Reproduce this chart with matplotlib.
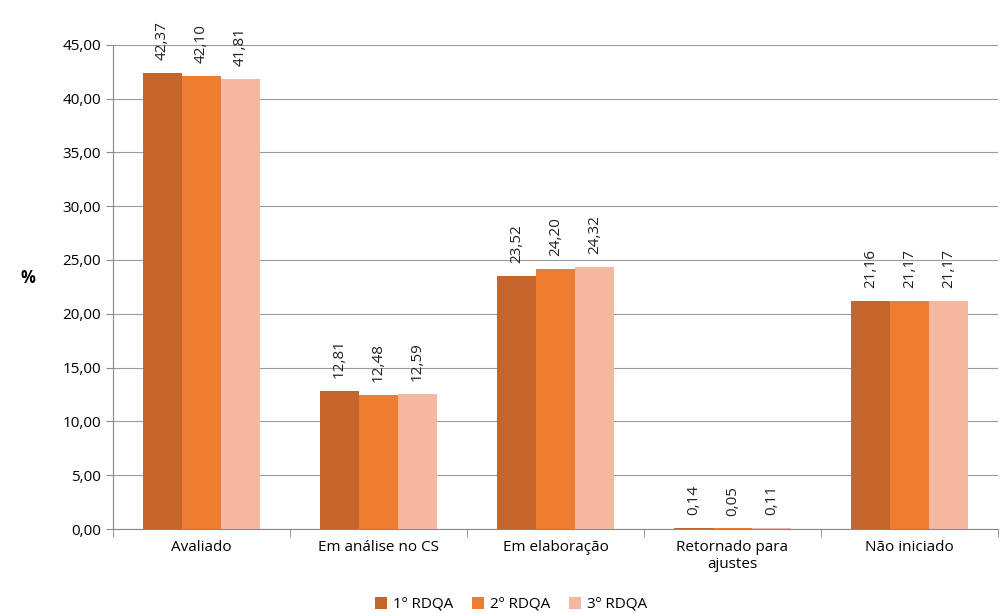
import matplotlib
matplotlib.use("Agg")
import matplotlib.pyplot as plt
import numpy as np

categories = ["Avaliado", "Em análise no CS", "Em elaboração", "Retornado para\najustes", "Não iniciado"]
series = ["1º RDQA", "2º RDQA", "3º RDQA"]
v1 = [42.37, 12.81, 23.52, 0.14, 21.16]
v2 = [42.10, 12.48, 24.20, 0.05, 21.17]
v3 = [41.81, 12.59, 24.32, 0.11, 21.17]
colors = ["#C4652B", "#ED7D31", "#F4B8A1"]

plt.rcParams['font.family'] = ['Open Sans', 'DejaVu Sans']
fig = plt.figure(figsize=(10, 6.13), dpi=100)
ax = fig.add_axes([0.113, 0.137, 0.885, 0.79])
x = np.arange(len(categories))
w = 0.22
for i, (vals, c, s) in enumerate(zip([v1, v2, v3], colors, series)):
    pos = x + (i - 1) * w
    ax.bar(pos, vals, w, color=c, label=s, zorder=3)
    for p, v in zip(pos, vals):
        ax.text(p, v + 1.2, f"{v:.2f}".replace(".", ","), rotation=90,
                ha="center", va="bottom", fontsize=11, color="#222222")
ax.set_ylim(0, 45)
ax.set_xlim(-0.5, 4.5)
ax.set_yticks(np.arange(0, 46, 5))
ax.set_yticklabels([f"{t:.2f}".replace(".", ",") for t in np.arange(0, 46, 5)], fontsize=11)
ax.yaxis.grid(True, color="#9a9a9a", linewidth=0.8, zorder=0)
ax.set_xticks(x)
ax.set_xticklabels(categories, fontsize=11)
ax.set_xticks(np.arange(-0.5, 4.6, 1), minor=True)
ax.tick_params(axis="x", which="major", length=0, pad=8)
ax.tick_params(axis="x", which="minor", length=6, color="#888888")
ax.tick_params(axis="y", length=5, color="#888888")
for s in ["top", "right"]:
    ax.spines[s].set_visible(False)
ax.spines["left"].set_color("#888888")
ax.spines["bottom"].set_color("#888888")
ax.set_ylabel("%", rotation=0, fontsize=12, fontweight="bold", labelpad=25)
ax.legend(loc="lower center", bbox_to_anchor=(0.45, -0.2), ncol=3, frameon=False,
          fontsize=11, handlelength=0.8, handleheight=0.8, columnspacing=1.2, handletextpad=0.4)
fig.savefig("out.png", dpi=100)
